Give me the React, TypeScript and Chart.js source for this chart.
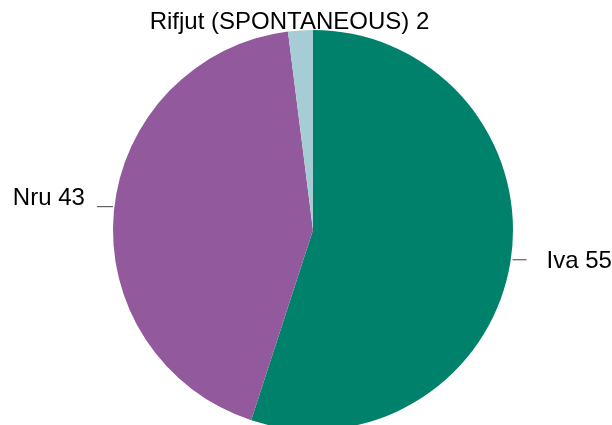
import React, { useEffect, useRef } from "react";
import { Chart, registerables } from "chart.js";

Chart.register(...registerables);

const categories = ["Iva", "Nru", "Rifjut (SPONTANEOUS)"];
const values = [55, 43, 2];
const colors = ["#00816b", "#925a9d", "#a6cdd5"];

const labelPlugin = {
  id: "pieLabels",
  afterDraw(chart: any) {
    const ctx = chart.ctx;
    const meta = chart.getDatasetMeta(0);
    ctx.save();
    ctx.font = "24px 'Liberation Sans', Arial, sans-serif";
    ctx.fillStyle = "#000";
    ctx.strokeStyle = "#444";
    ctx.lineWidth = 1;
    meta.data.forEach((arc: any, i: number) => {
      const { x, y, startAngle, endAngle, outerRadius } = arc.getProps(
        ["x", "y", "startAngle", "endAngle", "outerRadius"],
        true
      );
      const mid = (startAngle + endAngle) / 2;
      const px = x + Math.cos(mid) * outerRadius;
      const py = y + Math.sin(mid) * outerRadius;
      const text = `${categories[i]} ${values[i]}`;
      const dx = Math.cos(mid);
      if (dx > 0.3) {
        ctx.beginPath();
        ctx.moveTo(px + 2, py - 1.5);
        ctx.lineTo(px + 16, py - 1.5);
        ctx.stroke();
        ctx.textAlign = "left";
        ctx.textBaseline = "middle";
        ctx.fillText(text, px + 36, py);
      } else if (dx < -0.3) {
        ctx.beginPath();
        ctx.moveTo(px - 1, py - 4.5);
        ctx.lineTo(px - 17, py - 4.5);
        ctx.stroke();
        ctx.textAlign = "right";
        ctx.textBaseline = "middle";
        ctx.fillText(text, px - 29, py - 13);
      } else {
        ctx.textAlign = "center";
        ctx.textBaseline = "middle";
        ctx.fillText(text, px - 11, py - 8);
      }
    });
    ctx.restore();
  },
};

export default function App() {
  const ref = useRef<HTMLCanvasElement>(null);
  useEffect(() => {
    if (!ref.current) return;
    const chart = new Chart(ref.current, {
      type: "pie",
      data: {
        labels: categories,
        datasets: [
          {
            data: values,
            backgroundColor: colors,
            borderWidth: 0,
          },
        ],
      },
      options: {
        animation: false,
        responsive: false,
        layout: { padding: { left: 113, right: 99, top: 30, bottom: 30 } },
        plugins: {
          legend: { display: false },
          tooltip: { enabled: false },
        },
      },
      plugins: [labelPlugin],
    });
    return () => chart.destroy();
  }, []);
  return (
    <div
      style={{
        position: "fixed",
        left: 0,
        top: 0,
        width: 612,
        height: 425,
        overflow: "hidden",
        background: "#fff",
      }}
    >
      <canvas ref={ref} width={612} height={460} style={{ display: "block" }} />
    </div>
  );
}
